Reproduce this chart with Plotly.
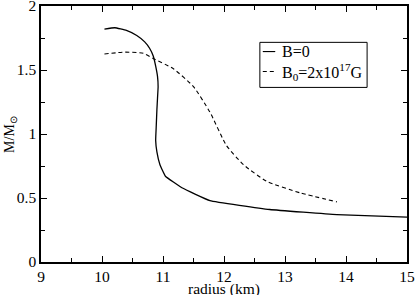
import plotly.graph_objects as go

r_b0 = [10.04, 10.21, 10.40, 10.57, 10.70, 10.78, 10.84, 10.88, 10.91, 10.92, 10.91, 10.90, 10.89, 10.88, 10.90, 10.95, 11.04, 11.31, 11.77, 12.75, 13.85, 15.0]
m_b0 = [1.82, 1.83, 1.81, 1.77, 1.72, 1.67, 1.61, 1.53, 1.45, 1.37, 1.28, 1.19, 1.07, 0.95, 0.86, 0.76, 0.67, 0.58, 0.48, 0.41, 0.37, 0.35]

r_b1 = [10.04, 10.38, 10.68, 10.84, 11.17, 11.50, 11.77, 12.04, 12.32, 12.70, 13.25, 13.85]
m_b1 = [1.625, 1.64, 1.63, 1.59, 1.51, 1.37, 1.17, 0.91, 0.76, 0.63, 0.54, 0.47]

series_names = ["B=0", "B<sub>0</sub>=2x10<sup>17</sup>G"]
series_dash = ["solid", "4px,3px"]
x_title = "radius (km)"
y_title = "M/M<sub>⊙</sub>"

font = "Liberation Serif"

fig = go.Figure()
fig.add_trace(go.Scatter(x=r_b0, y=m_b0, mode="lines", name=series_names[0],
                         line=dict(color="black", width=1.3, shape="spline", smoothing=0.3)))
fig.add_trace(go.Scatter(x=r_b1, y=m_b1, mode="lines", name=series_names[1],
                         line=dict(color="black", width=1.1, dash=series_dash[1], shape="spline", smoothing=0.5)))

# custom legend (box, line samples, labels) in paper coordinates
box = dict(x0=0.598, x1=0.891, y0=0.682, y1=0.858)
rows_y = [0.822, 0.744]
shapes = [dict(type="rect", xref="paper", yref="paper", **box,
               line=dict(color="black", width=1), fillcolor="white", layer="above")]
annotations = []
for name, dash, yy in zip(series_names, series_dash, rows_y):
    shapes.append(dict(type="line", xref="paper", yref="paper", x0=0.606, x1=0.64, y0=yy, y1=yy,
                       line=dict(color="black", width=1.1, dash=dash), layer="above"))
    annotations.append(dict(xref="paper", yref="paper", x=0.652, y=yy, text=name, showarrow=False,
                            xanchor="left", yanchor="middle",
                            font=dict(family=font, size=16, color="black")))

# axis titles
annotations.append(dict(xref="paper", yref="paper", x=0.5, y=-0.105, text=x_title, showarrow=False,
                        xanchor="center", yanchor="middle", font=dict(family=font, size=15.5, color="black")))
annotations.append(dict(xref="paper", yref="paper", x=-0.085, y=0.5, text=y_title, showarrow=False,
                        textangle=-90, xanchor="center", yanchor="middle",
                        font=dict(family=font, size=14, color="black")))

axis_common = dict(showgrid=False, zeroline=False, showline=True, linecolor="black", linewidth=1.5,
                   ticks="inside", ticklen=6, tickcolor="black", mirror="ticks", automargin=False,
                   ticklabeloverflow="allow",
                   tickfont=dict(family=font, size=15.5, color="black"))

fig.update_layout(
    width=415, height=295,
    font=dict(family=font, size=15, color="black"),
    margin=dict(l=41, r=8, t=6, b=33),
    plot_bgcolor="white", paper_bgcolor="white",
    showlegend=False,
    shapes=shapes,
    annotations=annotations,
    xaxis=dict(range=[9, 15], tickvals=[9, 10, 11, 12, 13, 14, 15],
               minor=dict(tickvals=[9.5, 10.5, 11.5, 12.5, 13.5, 14.5], ticks="inside", ticklen=4, tickcolor="black"),
               **axis_common),
    yaxis=dict(range=[0, 2], tickvals=[0, 0.5, 1, 1.5, 2], ticktext=["0", "0.5", "1", "1.5", "2"],
               minor=dict(tickvals=[0.25, 0.75, 1.25, 1.75], ticks="inside", ticklen=4, tickcolor="black"),
               **axis_common),
)

fig.write_html("out.html", config={"displayModeBar": False},
               post_script="document.body.style.margin='0';document.body.style.overflow='hidden';")
